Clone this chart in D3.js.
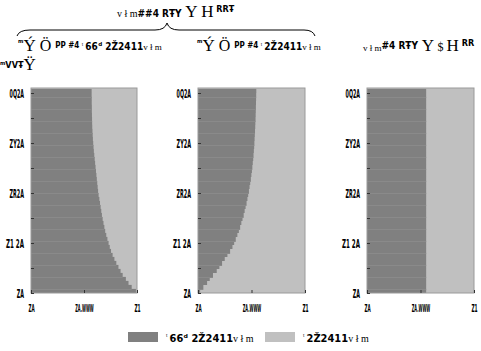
<!DOCTYPE html>
<html>
<head>
<meta charset="utf-8">
<script src="https://cdn.jsdelivr.net/npm/d3@7"></script>
<style>
  body { margin: 0; background: #fff; }
  .serif { font-family: "Liberation Serif", "DejaVu Serif", serif; }
  .cond { font-family: "Liberation Sans Narrow", "DejaVu Sans Condensed", sans-serif; font-weight: bold; }
</style>
</head>
<body>
<div id="chart"></div>
<script>
// Chart size
var svgWidth = 481;
var svgHeight = 351;

// Row starts (y axis) and dark share per row, bottom row first
var rowStarts = d3.range(0, 1001, 20);
var leftShare = [0.99, 0.95, 0.92, 0.895, 0.865, 0.845, 0.825, 0.805, 0.787, 0.77,
    0.755, 0.743, 0.732, 0.721, 0.71, 0.70, 0.692, 0.684, 0.676, 0.669,
    0.663, 0.657, 0.651, 0.645, 0.638, 0.633, 0.629, 0.625, 0.621, 0.617,
    0.613, 0.609, 0.605, 0.601, 0.597, 0.593, 0.59, 0.587, 0.584, 0.582,
    0.58, 0.578, 0.577, 0.576, 0.575, 0.574, 0.574, 0.573, 0.573, 0.572, 0.572];
var middleShare = [0.02, 0.05, 0.085, 0.11, 0.14, 0.175, 0.20, 0.225, 0.25, 0.275,
    0.30, 0.322, 0.338, 0.353, 0.368, 0.382, 0.394, 0.405, 0.416, 0.427,
    0.436, 0.445, 0.454, 0.462, 0.469, 0.476, 0.482, 0.488, 0.494, 0.499,
    0.504, 0.508, 0.512, 0.516, 0.519, 0.522, 0.525, 0.527, 0.529, 0.531,
    0.533, 0.535, 0.536, 0.538, 0.539, 0.540, 0.541, 0.542, 0.543, 0.544, 0.545];
var rightShare = [0.553, 0.553, 0.553, 0.553, 0.553, 0.553, 0.553, 0.553, 0.553, 0.553,
    0.553, 0.553, 0.553, 0.553, 0.553, 0.553, 0.553, 0.553, 0.553, 0.553,
    0.553, 0.553, 0.553, 0.553, 0.553, 0.553, 0.553, 0.553, 0.553, 0.553,
    0.553, 0.553, 0.553, 0.553, 0.553, 0.553, 0.553, 0.553, 0.553, 0.553,
    0.553, 0.553, 0.553, 0.553, 0.553, 0.553, 0.553, 0.553, 0.553, 0.553, 0.553];

// Tick values and labels
var yTickValues = [0, 250, 500, 750, 1000];
var yTickLabels = ["ZA", "Z1 2A", "ZR2A", "ZY2A", "0Q2A"];
var yMinorValues = [125, 375, 625, 875];
var xTickValues = [0, 0.5, 1];
var xTickLabels = ["ZA", "ZA.WWW", "Z1"];

var darkColor = "#808080";
var lightColor = "#c0c0c0";

var svg = d3.select("#chart")
    .append("svg")
    .attr("width", svgWidth)
    .attr("height", svgHeight);

// Panels
var panels = [
    { x0: 31, x1: 137, data: leftShare },
    { x0: 198, x1: 305, data: middleShare },
    { x0: 367, x1: 474, data: rightShare }
];

var yScale = d3.scaleLinear().domain([0, 1025]).range([293, 88]);

// squeeze tick labels like the narrow font of the original
function narrow(sel, size, perChar) {
    sel.each(function() {
        var s = d3.select(this);
        var n = s.text().length;
        s.style("font-family", "'DejaVu Sans Condensed', 'Liberation Sans', sans-serif")
            .style("font-weight", "bold")
            .style("font-size", size + "px")
            .attr("fill", "#000")
            .attr("textLength", n * perChar)
            .attr("lengthAdjust", "spacingAndGlyphs");
    });
}

panels.forEach(p => {
    var xScale = d3.scaleLinear().domain([0, 1]).range([p.x0, p.x1]);
    var g = svg.append("g");

    // light background = remaining share
    g.append("rect")
        .attr("x", xScale(0)).attr("y", yScale(1025))
        .attr("width", xScale(1) - xScale(0))
        .attr("height", yScale(0) - yScale(1025))
        .attr("fill", lightColor);

    // dark bars
    g.selectAll("rect.bar")
        .data(rowStarts)
        .enter()
        .append("rect")
        .attr("class", "bar")
        .attr("x", xScale(0))
        .attr("y", d => yScale(d + 20.5))
        .attr("width", (d, i) => xScale(p.data[i]) - xScale(0))
        .attr("height", d => yScale(d) - yScale(d + 20.5))
        .attr("fill", darkColor);

    // a few faint seams between rows
    g.selectAll("line.seam")
        .data(rowStarts.filter((d, i) => i % 3 === 1))
        .enter()
        .append("line")
        .attr("x1", xScale(0))
        .attr("x2", d => xScale(p.data[rowStarts.indexOf(d)]))
        .attr("y1", d => yScale(d) + 0.5)
        .attr("y2", d => yScale(d) + 0.5)
        .attr("stroke", "#8a8a8a")
        .attr("stroke-width", 1);

    // frame
    g.append("rect")
        .attr("x", xScale(0)).attr("y", yScale(1025))
        .attr("width", xScale(1) - xScale(0))
        .attr("height", yScale(0) - yScale(1025))
        .attr("fill", "none")
        .attr("stroke", "#9a9a9a")
        .attr("stroke-width", 1);

    // y axis, ticks point inward
    var leftAxis = d3.axisLeft(yScale)
        .tickValues(yTickValues)
        .tickFormat((d, i) => yTickLabels[i])
        .tickSize(-3)
        .tickPadding(7);
    var ya = g.append("g")
        .attr("transform", `translate(${xScale(0)},0)`)
        .call(leftAxis);
    ya.select(".domain").remove();
    ya.selectAll(".tick line").attr("stroke", "#333");
    narrow(ya.selectAll(".tick text"), 13, 3.6);

    var minorAxis = d3.axisLeft(yScale)
        .tickValues(yMinorValues)
        .tickFormat("")
        .tickSize(-3);
    var ym = g.append("g")
        .attr("transform", `translate(${xScale(0)},0)`)
        .call(minorAxis);
    ym.select(".domain").remove();
    ym.selectAll(".tick line").attr("stroke", "#333");

    // x axis
    var bottomAxis = d3.axisBottom(xScale)
        .tickValues(xTickValues)
        .tickFormat((d, i) => xTickLabels[i])
        .tickSize(-3)
        .tickPadding(11);
    var xa = g.append("g")
        .attr("transform", `translate(0,${yScale(0)})`)
        .call(bottomAxis);
    xa.select(".domain").remove();
    xa.selectAll(".tick line").attr("stroke", "#333");
    narrow(xa.selectAll(".tick text"), 11, 3.1);
});

// Helper for mixed-style labels
function mixedText(x, y, parts) {
    var t = svg.append("text").attr("x", x).attr("y", y).attr("fill", "#000");
    parts.forEach(pt => {
        t.append("tspan")
            .attr("class", pt[2])
            .style("font-size", pt[1] + "px")
            .attr("dy", pt[3] || 0)
            .text(pt[0]);
    });
    return t;
}

// Main title
mixedText(117, 17, [
    ["v  ł  m", 10, "serif"],
    ["##4 RŦY", 10, "cond"],
    [" Y ", 17, "serif"],
    ["H", 17, "serif"],
    [" RRŦ", 9, "cond", -5]
]);

// Brace under the title
svg.append("path")
    .attr("d", "M17,36 Q19,30 30,30 L155,30 Q165,30 167,23 Q169,30 179,30 L304,30 Q313,30 315,36")
    .attr("fill", "none")
    .attr("stroke", "#000")
    .attr("stroke-width", 1);

// Panel titles
mixedText(18, 51, [
    ["ᵐ", 9, "cond", -5],
    ["Ý", 17, "serif", 5],
    [" Ö ", 16, "serif"],
    ["PP ", 8, "cond", -3],
    ["#4 ", 8, "cond"],
    ["ᵗ ", 8, "serif"],
    ["66ᵈ ", 10, "cond", 2],
    ["2Ž2411", 10, "cond"],
    ["v  ł  m", 9, "serif"]
]);
mixedText(197, 51, [
    ["ᵐ", 9, "cond", -5],
    ["Ý", 17, "serif", 5],
    [" Ö ", 16, "serif"],
    ["PP ", 8, "cond", -3],
    ["#4 ", 8, "cond"],
    ["ᵗ ", 8, "serif"],
    ["2Ž2411", 10, "cond", 2],
    ["v  ł  m", 9, "serif"]
]);
mixedText(363, 51, [
    ["v  ł  m", 9, "serif"],
    ["#4 RŦY", 10, "cond", -2],
    [" Y ", 17, "serif", 2],
    ["$ ", 12, "serif"],
    ["H", 17, "serif"],
    [" RR", 9, "cond", -5]
]);

// y label
mixedText(0, 70, [
    ["ᵐVVŦ", 9, "cond", -2],
    ["Ÿ", 17, "serif", 2]
]);

// Legend
var legendItems = [
    { color: darkColor, x: 128, parts: [["ᵗ ", 8, "serif", -3], ["66ᵈ ", 11, "cond", 3], ["2Ž2411", 11, "cond"], ["v  ł  m", 10, "serif"]] },
    { color: lightColor, x: 265, parts: [["ᵗ ", 8, "serif", -3], ["2Ž2411", 11, "cond", 3], ["v  ł  m", 10, "serif"]] }
];
legendItems.forEach(item => {
    svg.append("rect")
        .attr("x", item.x).attr("y", 332)
        .attr("width", 30).attr("height", 10)
        .attr("fill", item.color);
    mixedText(item.x + 38, 342, item.parts);
});
</script>
</body>
</html>
